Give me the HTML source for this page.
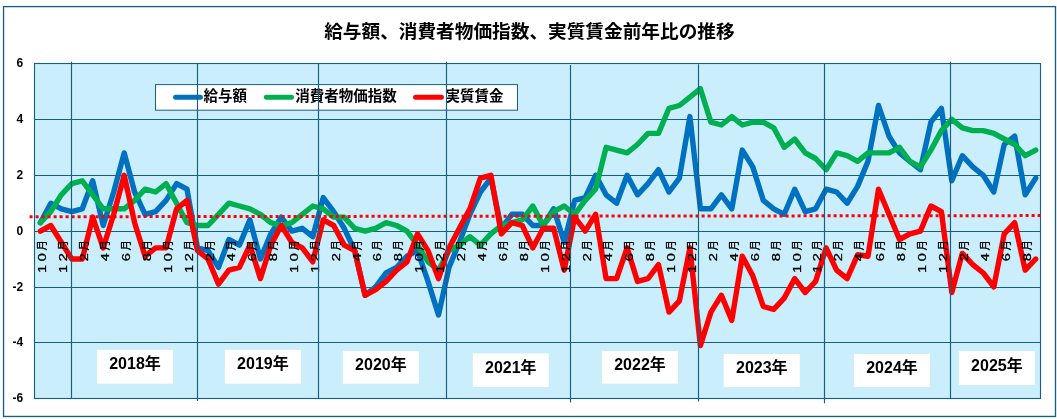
<!DOCTYPE html>
<html lang="ja"><head><meta charset="utf-8"><title>給与額、消費者物価指数、実質賃金前年比の推移</title>
<style>
html,body{margin:0;padding:0;background:#fff;}
body{width:1057px;height:419px;overflow:hidden;}
svg{display:block;}
text{font-family:"Liberation Sans","Noto Sans CJK JP",sans-serif;fill:#000;}
.b{font-weight:bold;}
.s{fill:none;stroke-width:5.4;stroke-linejoin:round;stroke-linecap:round;}
.g{stroke:#156082;stroke-width:1.1;fill:none;}
.xl text{font-size:11px;text-anchor:middle;stroke:#000;stroke-width:0.3;}
.xl text.k{font-size:11.4px;stroke-width:0.25;}
.yl text{font-size:12px;font-weight:bold;text-anchor:end;}
.yr text{font-size:16px;font-weight:bold;text-anchor:middle;}
.lg text{font-size:14.5px;font-weight:bold;}
</style></head><body>
<svg width="1057" height="419" viewBox="0 0 1057 419">
<rect x="0" y="0" width="1057" height="419" fill="#fff"/>
<rect x="3.55" y="6.6" width="1051.95" height="409.85" fill="#fff" stroke="#156082" stroke-width="1.33"/>
<rect x="34.5" y="63.5" width="1006" height="335" fill="#CAEEFB" stroke="#156082" stroke-width="1.1"/>
<line class="g" x1="34.5" x2="1040.5" y1="119.5" y2="119.5"/>
<line class="g" x1="34.5" x2="1040.5" y1="175.5" y2="175.5"/>
<line class="g" x1="34.5" x2="1040.5" y1="231.5" y2="231.5"/>
<line class="g" x1="34.5" x2="1040.5" y1="287.5" y2="287.5"/>
<line class="g" x1="34.5" x2="1040.5" y1="342.5" y2="342.5"/>
<polyline class="s" stroke="#0070C0" points="40.4,222.7 50.8,203.2 61.3,208.8 71.8,211.6 82.3,208.8 92.7,180.8 103.2,225.5 113.7,192.0 124.2,152.9 134.6,192.0 145.1,214.3 155.6,211.6 166.1,200.4 176.6,183.6 187.0,189.2 197.5,247.9 208.0,250.6 218.5,267.4 228.9,239.5 239.4,245.1 249.9,219.9 260.4,259.0 270.8,233.9 281.3,217.1 291.8,231.1 302.3,228.3 312.8,236.7 323.2,197.6 333.7,211.6 344.2,228.3 354.7,250.6 365.1,295.3 375.6,286.9 386.1,273.0 396.6,267.4 407.0,256.2 417.5,250.6 428.0,281.4 438.5,314.9 449.0,267.4 459.4,242.3 469.9,214.3 480.4,192.0 490.9,178.1 501.3,228.3 511.8,214.3 522.3,214.3 532.8,225.5 543.2,225.5 553.7,208.8 564.2,242.3 574.7,200.4 585.2,197.6 595.6,175.3 606.1,194.8 616.6,203.2 627.1,175.3 637.5,194.8 648.0,183.6 658.5,169.7 669.0,192.0 679.4,178.1 689.9,116.6 700.4,208.8 710.9,208.8 721.4,194.8 731.8,208.8 742.3,150.1 752.8,166.9 763.3,200.4 773.7,208.8 784.2,214.3 794.7,189.2 805.2,211.6 815.6,208.8 826.1,189.2 836.6,192.0 847.1,203.2 857.6,186.4 868.0,161.3 878.5,105.5 889.0,136.2 899.5,152.9 909.9,161.3 920.4,169.7 930.9,122.2 941.4,108.3 951.8,180.8 962.3,155.7 972.8,166.9 983.3,175.3 993.8,192.0 1004.2,144.5 1014.7,136.2 1025.2,194.8 1035.7,178.1"/>
<polyline class="s" stroke="#00B050" points="40.4,222.7 50.8,211.6 61.3,194.8 71.8,183.6 82.3,180.8 92.7,194.8 103.2,208.8 113.7,208.8 124.2,208.8 134.6,200.4 145.1,189.2 155.6,192.0 166.1,183.6 176.6,203.2 187.0,222.7 197.5,225.5 208.0,225.5 218.5,214.3 228.9,203.2 239.4,206.0 249.9,208.8 260.4,214.3 270.8,222.7 281.3,225.5 291.8,222.7 302.3,214.3 312.8,206.0 323.2,208.8 333.7,217.1 344.2,217.1 354.7,228.3 365.1,231.1 375.6,228.3 386.1,222.7 396.6,225.5 407.0,231.1 417.5,245.1 428.0,261.8 438.5,270.2 449.0,250.6 459.4,245.1 469.9,236.7 480.4,245.1 490.9,233.9 501.3,225.5 511.8,222.7 522.3,219.9 532.8,206.0 543.2,225.5 553.7,211.6 564.2,206.0 574.7,214.3 585.2,200.4 595.6,189.2 606.1,147.3 616.6,150.1 627.1,152.9 637.5,144.5 648.0,133.4 658.5,133.4 669.0,108.3 679.4,105.5 689.9,97.1 700.4,88.7 710.9,122.2 721.4,125.0 731.8,116.6 742.3,125.0 752.8,122.2 763.3,122.2 773.7,127.8 784.2,147.3 794.7,139.0 805.2,152.9 815.6,158.5 826.1,169.7 836.6,152.9 847.1,155.7 857.6,161.3 868.0,152.9 878.5,152.9 889.0,152.9 899.5,147.3 909.9,161.3 920.4,166.9 930.9,150.1 941.4,130.6 951.8,119.4 962.3,127.8 972.8,130.6 983.3,130.6 993.8,133.4 1004.2,139.0 1014.7,144.5 1025.2,155.7 1035.7,150.1"/>
<polyline class="s" stroke="#FF0000" points="40.4,231.1 50.8,225.5 61.3,242.3 71.8,259.0 82.3,259.0 92.7,217.1 103.2,247.9 113.7,214.3 124.2,175.3 134.6,222.7 145.1,256.2 155.6,247.9 166.1,247.9 176.6,208.8 187.0,200.4 197.5,250.6 208.0,259.0 218.5,284.1 228.9,270.2 239.4,267.4 249.9,245.1 260.4,278.6 270.8,245.1 281.3,225.5 291.8,242.3 302.3,247.9 312.8,261.8 323.2,219.9 333.7,225.5 344.2,245.1 354.7,250.6 365.1,295.3 375.6,289.7 386.1,281.4 396.6,270.2 407.0,261.8 417.5,233.9 428.0,250.6 438.5,278.6 449.0,247.9 459.4,228.3 469.9,208.8 480.4,178.1 490.9,175.3 501.3,233.9 511.8,222.7 522.3,225.5 532.8,247.9 543.2,228.3 553.7,228.3 564.2,270.2 574.7,217.1 585.2,231.1 595.6,214.3 606.1,278.6 616.6,278.6 627.1,247.9 637.5,281.4 648.0,278.6 658.5,264.6 669.0,312.1 679.4,300.9 689.9,247.9 700.4,345.6 710.9,312.1 721.4,295.3 731.8,320.4 742.3,256.2 752.8,275.8 763.3,306.5 773.7,309.3 784.2,298.1 794.7,278.6 805.2,292.5 815.6,281.4 826.1,247.9 836.6,270.2 847.1,278.6 857.6,254.8 868.0,256.2 878.5,189.2 889.0,214.3 899.5,239.5 909.9,233.9 920.4,231.1 930.9,206.0 941.4,211.6 951.8,292.5 962.3,253.4 972.8,264.6 983.3,273.0 993.8,286.9 1004.2,233.9 1014.7,222.7 1025.2,270.2 1035.7,259.0"/>
<line x1="29.6" y1="216.75" x2="1040.5" y2="215.6" stroke="#FF0000" stroke-width="3" stroke-dasharray="3 3"/>
<g class="xl">
<g transform="translate(42.1,241.5) rotate(-90)"><text transform="translate(-3.9,4.0) scale(0.9,1.03)" class="k">月</text><text transform="translate(-15.6,4) scale(1.32,1)">0</text><text transform="translate(-27.5,4) scale(1.32,1)">1</text></g>
<g transform="translate(63.1,241.5) rotate(-90)"><text transform="translate(-3.9,4.0) scale(0.9,1.03)" class="k">月</text><text transform="translate(-15.6,4) scale(1.32,1)">2</text><text transform="translate(-27.5,4) scale(1.32,1)">1</text></g>
<g transform="translate(84.1,241.5) rotate(-90)"><text transform="translate(-3.9,4.0) scale(0.9,1.03)" class="k">月</text><text transform="translate(-15.6,4) scale(1.32,1)">2</text></g>
<g transform="translate(105.0,241.5) rotate(-90)"><text transform="translate(-3.9,4.0) scale(0.9,1.03)" class="k">月</text><text transform="translate(-15.6,4) scale(1.32,1)">4</text></g>
<g transform="translate(126.0,241.5) rotate(-90)"><text transform="translate(-3.9,4.0) scale(0.9,1.03)" class="k">月</text><text transform="translate(-15.6,4) scale(1.32,1)">6</text></g>
<g transform="translate(146.9,241.5) rotate(-90)"><text transform="translate(-3.9,4.0) scale(0.9,1.03)" class="k">月</text><text transform="translate(-15.6,4) scale(1.32,1)">8</text></g>
<g transform="translate(167.9,241.5) rotate(-90)"><text transform="translate(-3.9,4.0) scale(0.9,1.03)" class="k">月</text><text transform="translate(-15.6,4) scale(1.32,1)">0</text><text transform="translate(-27.5,4) scale(1.32,1)">1</text></g>
<g transform="translate(188.8,241.5) rotate(-90)"><text transform="translate(-3.9,4.0) scale(0.9,1.03)" class="k">月</text><text transform="translate(-15.6,4) scale(1.32,1)">2</text><text transform="translate(-27.5,4) scale(1.32,1)">1</text></g>
<g transform="translate(209.8,241.5) rotate(-90)"><text transform="translate(-3.9,4.0) scale(0.9,1.03)" class="k">月</text><text transform="translate(-15.6,4) scale(1.32,1)">2</text></g>
<g transform="translate(230.7,241.5) rotate(-90)"><text transform="translate(-3.9,4.0) scale(0.9,1.03)" class="k">月</text><text transform="translate(-15.6,4) scale(1.32,1)">4</text></g>
<g transform="translate(251.7,241.5) rotate(-90)"><text transform="translate(-3.9,4.0) scale(0.9,1.03)" class="k">月</text><text transform="translate(-15.6,4) scale(1.32,1)">6</text></g>
<g transform="translate(272.6,241.5) rotate(-90)"><text transform="translate(-3.9,4.0) scale(0.9,1.03)" class="k">月</text><text transform="translate(-15.6,4) scale(1.32,1)">8</text></g>
<g transform="translate(293.6,241.5) rotate(-90)"><text transform="translate(-3.9,4.0) scale(0.9,1.03)" class="k">月</text><text transform="translate(-15.6,4) scale(1.32,1)">0</text><text transform="translate(-27.5,4) scale(1.32,1)">1</text></g>
<g transform="translate(314.6,241.5) rotate(-90)"><text transform="translate(-3.9,4.0) scale(0.9,1.03)" class="k">月</text><text transform="translate(-15.6,4) scale(1.32,1)">2</text><text transform="translate(-27.5,4) scale(1.32,1)">1</text></g>
<g transform="translate(335.5,241.5) rotate(-90)"><text transform="translate(-3.9,4.0) scale(0.9,1.03)" class="k">月</text><text transform="translate(-15.6,4) scale(1.32,1)">2</text></g>
<g transform="translate(356.5,241.5) rotate(-90)"><text transform="translate(-3.9,4.0) scale(0.9,1.03)" class="k">月</text><text transform="translate(-15.6,4) scale(1.32,1)">4</text></g>
<g transform="translate(377.4,241.5) rotate(-90)"><text transform="translate(-3.9,4.0) scale(0.9,1.03)" class="k">月</text><text transform="translate(-15.6,4) scale(1.32,1)">6</text></g>
<g transform="translate(398.4,241.5) rotate(-90)"><text transform="translate(-3.9,4.0) scale(0.9,1.03)" class="k">月</text><text transform="translate(-15.6,4) scale(1.32,1)">8</text></g>
<g transform="translate(419.3,241.5) rotate(-90)"><text transform="translate(-3.9,4.0) scale(0.9,1.03)" class="k">月</text><text transform="translate(-15.6,4) scale(1.32,1)">0</text><text transform="translate(-27.5,4) scale(1.32,1)">1</text></g>
<g transform="translate(440.3,241.5) rotate(-90)"><text transform="translate(-3.9,4.0) scale(0.9,1.03)" class="k">月</text><text transform="translate(-15.6,4) scale(1.32,1)">2</text><text transform="translate(-27.5,4) scale(1.32,1)">1</text></g>
<g transform="translate(461.2,241.5) rotate(-90)"><text transform="translate(-3.9,4.0) scale(0.9,1.03)" class="k">月</text><text transform="translate(-15.6,4) scale(1.32,1)">2</text></g>
<g transform="translate(482.2,241.5) rotate(-90)"><text transform="translate(-3.9,4.0) scale(0.9,1.03)" class="k">月</text><text transform="translate(-15.6,4) scale(1.32,1)">4</text></g>
<g transform="translate(503.1,241.5) rotate(-90)"><text transform="translate(-3.9,4.0) scale(0.9,1.03)" class="k">月</text><text transform="translate(-15.6,4) scale(1.32,1)">6</text></g>
<g transform="translate(524.1,241.5) rotate(-90)"><text transform="translate(-3.9,4.0) scale(0.9,1.03)" class="k">月</text><text transform="translate(-15.6,4) scale(1.32,1)">8</text></g>
<g transform="translate(545.0,241.5) rotate(-90)"><text transform="translate(-3.9,4.0) scale(0.9,1.03)" class="k">月</text><text transform="translate(-15.6,4) scale(1.32,1)">0</text><text transform="translate(-27.5,4) scale(1.32,1)">1</text></g>
<g transform="translate(566.0,241.5) rotate(-90)"><text transform="translate(-3.9,4.0) scale(0.9,1.03)" class="k">月</text><text transform="translate(-15.6,4) scale(1.32,1)">2</text><text transform="translate(-27.5,4) scale(1.32,1)">1</text></g>
<g transform="translate(587.0,241.5) rotate(-90)"><text transform="translate(-3.9,4.0) scale(0.9,1.03)" class="k">月</text><text transform="translate(-15.6,4) scale(1.32,1)">2</text></g>
<g transform="translate(607.9,241.5) rotate(-90)"><text transform="translate(-3.9,4.0) scale(0.9,1.03)" class="k">月</text><text transform="translate(-15.6,4) scale(1.32,1)">4</text></g>
<g transform="translate(628.9,241.5) rotate(-90)"><text transform="translate(-3.9,4.0) scale(0.9,1.03)" class="k">月</text><text transform="translate(-15.6,4) scale(1.32,1)">6</text></g>
<g transform="translate(649.8,241.5) rotate(-90)"><text transform="translate(-3.9,4.0) scale(0.9,1.03)" class="k">月</text><text transform="translate(-15.6,4) scale(1.32,1)">8</text></g>
<g transform="translate(670.8,241.5) rotate(-90)"><text transform="translate(-3.9,4.0) scale(0.9,1.03)" class="k">月</text><text transform="translate(-15.6,4) scale(1.32,1)">0</text><text transform="translate(-27.5,4) scale(1.32,1)">1</text></g>
<g transform="translate(691.7,241.5) rotate(-90)"><text transform="translate(-3.9,4.0) scale(0.9,1.03)" class="k">月</text><text transform="translate(-15.6,4) scale(1.32,1)">2</text><text transform="translate(-27.5,4) scale(1.32,1)">1</text></g>
<g transform="translate(712.7,241.5) rotate(-90)"><text transform="translate(-3.9,4.0) scale(0.9,1.03)" class="k">月</text><text transform="translate(-15.6,4) scale(1.32,1)">2</text></g>
<g transform="translate(733.6,241.5) rotate(-90)"><text transform="translate(-3.9,4.0) scale(0.9,1.03)" class="k">月</text><text transform="translate(-15.6,4) scale(1.32,1)">4</text></g>
<g transform="translate(754.6,241.5) rotate(-90)"><text transform="translate(-3.9,4.0) scale(0.9,1.03)" class="k">月</text><text transform="translate(-15.6,4) scale(1.32,1)">6</text></g>
<g transform="translate(775.5,241.5) rotate(-90)"><text transform="translate(-3.9,4.0) scale(0.9,1.03)" class="k">月</text><text transform="translate(-15.6,4) scale(1.32,1)">8</text></g>
<g transform="translate(796.5,241.5) rotate(-90)"><text transform="translate(-3.9,4.0) scale(0.9,1.03)" class="k">月</text><text transform="translate(-15.6,4) scale(1.32,1)">0</text><text transform="translate(-27.5,4) scale(1.32,1)">1</text></g>
<g transform="translate(817.4,241.5) rotate(-90)"><text transform="translate(-3.9,4.0) scale(0.9,1.03)" class="k">月</text><text transform="translate(-15.6,4) scale(1.32,1)">2</text><text transform="translate(-27.5,4) scale(1.32,1)">1</text></g>
<g transform="translate(838.4,241.5) rotate(-90)"><text transform="translate(-3.9,4.0) scale(0.9,1.03)" class="k">月</text><text transform="translate(-15.6,4) scale(1.32,1)">2</text></g>
<g transform="translate(859.4,241.5) rotate(-90)"><text transform="translate(-3.9,4.0) scale(0.9,1.03)" class="k">月</text><text transform="translate(-15.6,4) scale(1.32,1)">4</text></g>
<g transform="translate(880.3,241.5) rotate(-90)"><text transform="translate(-3.9,4.0) scale(0.9,1.03)" class="k">月</text><text transform="translate(-15.6,4) scale(1.32,1)">6</text></g>
<g transform="translate(901.3,241.5) rotate(-90)"><text transform="translate(-3.9,4.0) scale(0.9,1.03)" class="k">月</text><text transform="translate(-15.6,4) scale(1.32,1)">8</text></g>
<g transform="translate(922.2,241.5) rotate(-90)"><text transform="translate(-3.9,4.0) scale(0.9,1.03)" class="k">月</text><text transform="translate(-15.6,4) scale(1.32,1)">0</text><text transform="translate(-27.5,4) scale(1.32,1)">1</text></g>
<g transform="translate(943.2,241.5) rotate(-90)"><text transform="translate(-3.9,4.0) scale(0.9,1.03)" class="k">月</text><text transform="translate(-15.6,4) scale(1.32,1)">2</text><text transform="translate(-27.5,4) scale(1.32,1)">1</text></g>
<g transform="translate(964.1,241.5) rotate(-90)"><text transform="translate(-3.9,4.0) scale(0.9,1.03)" class="k">月</text><text transform="translate(-15.6,4) scale(1.32,1)">2</text></g>
<g transform="translate(985.1,241.5) rotate(-90)"><text transform="translate(-3.9,4.0) scale(0.9,1.03)" class="k">月</text><text transform="translate(-15.6,4) scale(1.32,1)">4</text></g>
<g transform="translate(1006.0,241.5) rotate(-90)"><text transform="translate(-3.9,4.0) scale(0.9,1.03)" class="k">月</text><text transform="translate(-15.6,4) scale(1.32,1)">6</text></g>
<g transform="translate(1027.0,241.5) rotate(-90)"><text transform="translate(-3.9,4.0) scale(0.9,1.03)" class="k">月</text><text transform="translate(-15.6,4) scale(1.32,1)">8</text></g>
</g>
<g class="lg">
<rect x="155.5" y="84.6" width="362" height="25.6" fill="#fff" stroke="#156082" stroke-width="1"/>
<line x1="175.6" x2="200.4" y1="97.3" y2="97.3" stroke="#0070C0" stroke-width="5" stroke-linecap="round"/>
<line x1="266.4" x2="291.5" y1="97.3" y2="97.3" stroke="#00B050" stroke-width="5" stroke-linecap="round"/>
<line x1="415.6" x2="441.4" y1="97.3" y2="97.3" stroke="#FF0000" stroke-width="5" stroke-linecap="round"/>
<text x="203.6" y="101.2">給与額</text>
<text x="295.2" y="101.2">消費者物価指数</text>
<text x="445.6" y="101.2">実質賃金</text>
</g>
<line class="g" x1="71.5" x2="71.5" y1="61.8" y2="398.5" style="stroke-width:1.15"/>
<line class="g" x1="197.5" x2="197.5" y1="63.5" y2="401.0" style="stroke-width:1.15"/>
<line class="g" x1="318.5" x2="318.5" y1="63.5" y2="398.5" style="stroke-width:1.15"/>
<line class="g" x1="446.5" x2="446.5" y1="61.8" y2="398.5" style="stroke-width:1.15"/>
<line class="g" x1="570.5" x2="570.5" y1="65.0" y2="402.5" style="stroke-width:1.15"/>
<line class="g" x1="698.5" x2="698.5" y1="64.3" y2="401.4" style="stroke-width:1.15"/>
<line class="g" x1="824.5" x2="824.5" y1="63.5" y2="403.2" style="stroke-width:1.15"/>
<line class="g" x1="950.5" x2="950.5" y1="61.8" y2="398.5" style="stroke-width:1.15"/>
<g class="yl">
<text x="23.2" y="66.8">6</text>
<text x="23.2" y="122.8">4</text>
<text x="23.2" y="178.8">2</text>
<text x="23.2" y="234.8">0</text>
<text x="23.2" y="290.8">-2</text>
<text x="23.2" y="345.8">-4</text>
<text x="23.2" y="401.8">-6</text>
</g>
<g class="yr">
<rect x="97.0" y="349.8" width="76.0" height="33.9" fill="#fff"/>
<text x="135.0" y="369.4">2018年</text>
<rect x="224.8" y="349.8" width="76.2" height="33.9" fill="#fff"/>
<text x="262.9" y="369.4">2019年</text>
<rect x="343.0" y="351.0" width="75.9" height="32.7" fill="#fff"/>
<text x="380.9" y="370.1">2020年</text>
<rect x="472.8" y="353.3" width="76.0" height="33.7" fill="#fff"/>
<text x="510.8" y="372.8">2021年</text>
<rect x="602.0" y="351.0" width="75.9" height="32.7" fill="#fff"/>
<text x="640.0" y="370.1">2022年</text>
<rect x="723.7" y="354.0" width="76.1" height="33.0" fill="#fff"/>
<text x="761.8" y="373.2">2023年</text>
<rect x="853.9" y="354.0" width="76.1" height="33.0" fill="#fff"/>
<text x="892.0" y="373.2">2024年</text>
<rect x="958.9" y="351.0" width="76.0" height="34.0" fill="#fff"/>
<text x="996.9" y="370.7">2025年</text>
</g>
<text class="b" x="529.4" y="38" text-anchor="middle" style="font-size:18.67px">給与額、消費者物価指数、実質賃金前年比の推移</text>
</svg></body></html>
